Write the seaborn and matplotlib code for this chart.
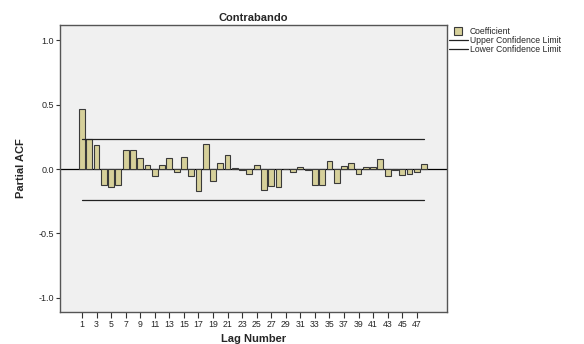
import numpy as np
import pandas as pd
import matplotlib
matplotlib.use("Agg")
import matplotlib.pyplot as plt
from matplotlib.lines import Line2D
import seaborn as sns

# partial autocorrelations, lags 1..48
lags = list(range(1, 49))
pacf = [0.47, 0.235, 0.19, -0.12, -0.14, -0.125, 0.148, 0.152, 0.09, 0.03,
        -0.055, 0.033, 0.09, -0.02, 0.094, -0.055, -0.17, 0.195, -0.09, 0.045,
        0.112, 0.005, -0.01, -0.035, 0.034, -0.165, -0.132, -0.138, -0.002, -0.02,
        0.016, -0.01, -0.12, -0.126, 0.065, -0.11, 0.028, 0.045, -0.04, 0.014,
        0.02, 0.075, -0.05, -0.003, -0.045, -0.038, -0.02, 0.04]
upper_limit = 0.236
lower_limit = -0.236
tick_lags = list(range(1, 48, 2))

df = pd.DataFrame({"lag": lags, "pacf": pacf})
df["upper"] = upper_limit
df["lower"] = lower_limit

sns.set_style("white")
plt.rcParams["font.family"] = ["Liberation Sans", "DejaVu Sans"]

bar_color = "#D6D09A"
fig = plt.figure(figsize=(5.84, 3.44), dpi=100)
ax = fig.add_axes([60 / 584, 32 / 344, 387 / 584, 287 / 344])
ax.set_facecolor("#F0F0F0")

sns.barplot(data=df, x="lag", y="pacf", native_scale=True, color=bar_color,
            saturation=1, width=0.8, edgecolor="#3a3a3a", linewidth=0.8, ax=ax)
sns.lineplot(data=df, x="lag", y="upper", color="#222222", linewidth=0.9, ax=ax)
sns.lineplot(data=df, x="lag", y="lower", color="#222222", linewidth=0.9, ax=ax)
ax.axhline(0, color="black", linewidth=0.9, zorder=0.5)

ax.set_xlim(-2.02, 51.15)
ax.set_ylim(-1.11, 1.12)
ax.set_xticks(tick_lags)
ax.set_xticklabels([str(t) for t in tick_lags], fontsize=6.3)
ax.set_yticks([-1.0, -0.5, 0.0, 0.5, 1.0])
ax.set_yticklabels(["-1.0", "-0.5", "0.0", "0.5", "1.0"], fontsize=6.5)
ax.tick_params(axis="x", direction="out", length=4, width=0.8, color="#333333",
               pad=1.5, bottom=True)
ax.tick_params(axis="y", direction="out", length=3, width=0.8, color="#333333",
               pad=1.5, left=True)
for s in ax.spines.values():
    s.set_color("#555555")
    s.set_linewidth(1.0)

ax.set_xlabel("Lag Number", fontsize=8, fontweight="bold", labelpad=4)
ax.set_ylabel("Partial ACF", fontsize=8, fontweight="bold", labelpad=9)
ax.set_title("Contrabando", fontsize=8, fontweight="bold", pad=3)

handles = [Line2D([0], [0], linestyle="none", marker="s", markersize=6,
                  markerfacecolor=bar_color, markeredgecolor="#3a3a3a", markeredgewidth=0.8),
           Line2D([0], [0], color="#222222", linewidth=0.9),
           Line2D([0], [0], color="#222222", linewidth=0.9)]
fig.legend(handles, ["Coefficient", "Upper Confidence Limit", "Lower Confidence Limit"],
           loc="upper left", bbox_to_anchor=(449 / 584, 1 - 27 / 344), frameon=False,
           fontsize=6.2, handlelength=2.2, handleheight=0.6, handletextpad=0.25,
           labelspacing=0.0, borderaxespad=0, borderpad=0)

fig.savefig("out.png", dpi=100, facecolor="white")
